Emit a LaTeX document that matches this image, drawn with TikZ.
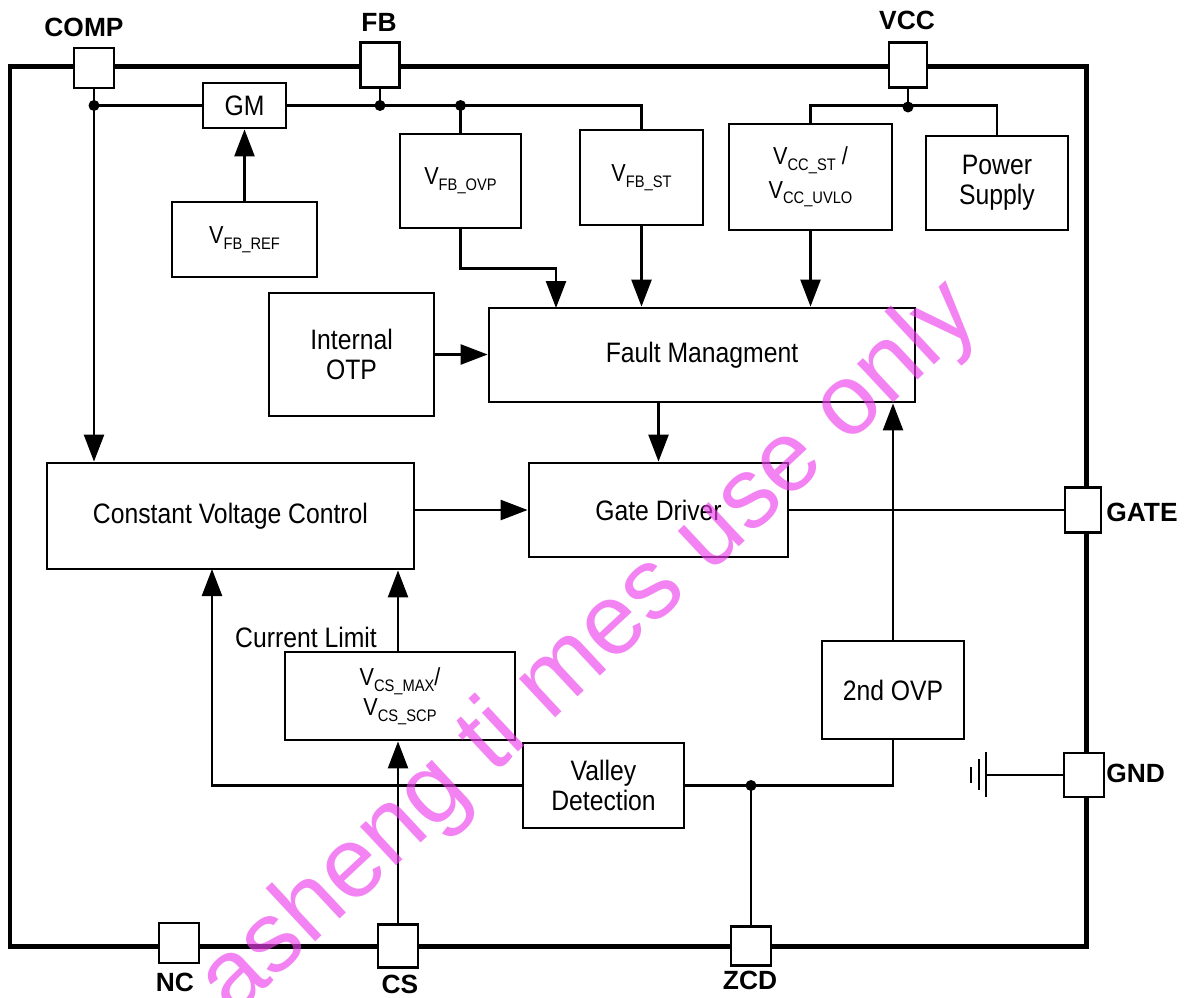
\documentclass[tikz,border=0pt]{standalone}
\usepackage{fontspec}
\setmainfont{Liberation Sans}[FakeStretch=0.88]
\newfontfamily\plainsans{Liberation Sans}
\usetikzlibrary{arrows.meta,calc}
\definecolor{wmark}{RGB}{236,64,236}
\newcommand{\pxu}{0.02cm}
\newcommand{\vsub}[2]{\fontsize{14}{17}\selectfont #1\raisebox{-0.45ex}{\fontsize{9.5}{11}\selectfont #2}}

\begin{document}
\begin{tikzpicture}[x=0.02cm, y=-0.02cm,
    blk/.style={draw, line width=1.6pt, align=center, inner sep=1pt,
                font=\fontsize{16}{17}\selectfont},
    pinbox/.style={draw, fill=white, line width=1.6pt, inner sep=0pt},
    pinlbl/.style={font=\plainsans\fontsize{15}{16}\selectfont\bfseries, inner sep=0pt},
    wire/.style={line width=1.4pt},
    arr/.style={wire, -{Triangle[length=0.54cm, width=0.4cm]}},
    jdot/.style={circle, fill, inner sep=0pt, minimum size=0.22cm}]
  \useasboundingbox (0,0) rectangle (1192,997);

  % chip outline
  \draw[line width=0.1cm] (10,67) rectangle (1086,946);

  % pins
  \node[pinbox, minimum width=40*\pxu, minimum height=40*\pxu] (comp) at (94,68) {};
  \node[pinbox, minimum width=39*\pxu, minimum height=45*\pxu] (fb) at (380,65) {};
  \node[pinbox, minimum width=38*\pxu, minimum height=45*\pxu] (vcc) at (908,65) {};
  \node[pinbox, minimum width=36*\pxu, minimum height=45*\pxu] (gate) at (1083,510) {};
  \node[pinbox, minimum width=40*\pxu, minimum height=44*\pxu] (gnd) at (1084,775) {};
  \node[pinbox, minimum width=40*\pxu, minimum height=39*\pxu] (zcd) at (751,946) {};
  \node[pinbox, minimum width=40*\pxu, minimum height=43*\pxu] (cs) at (398,946) {};
  \node[pinbox, minimum width=40*\pxu, minimum height=40*\pxu] (nc) at (179,943) {};

  \node[pinlbl] (complbl) at (84,27) {COMP};
  \node[pinlbl] (fblbl) at (379,22) {FB};
  \node[pinlbl] (vcclbl) at (907,20) {VCC};
  \node[pinlbl, anchor=west] (gatelbl) at (1106,512) {GATE};
  \node[pinlbl, anchor=west] (gndlbl) at (1106,773) {GND};
  \node[pinlbl] (zcdlbl) at (750,980) {ZCD};
  \node[pinlbl] (cslbl) at (400,984) {CS};
  \node[pinlbl] (nclbl) at (175,982) {NC};

  % blocks
  \node[blk, minimum width=83*\pxu, minimum height=45*\pxu] (gm) at (244.5,105.5) {GM};
  \node[blk, minimum width=145*\pxu, minimum height=75*\pxu] (vfbref) at (244.5,239.5) {\vsub{V}{FB\_REF}};
  \node[blk, minimum width=121*\pxu, minimum height=94*\pxu] (vfbovp) at (460.5,181) {\vsub{V}{FB\_OVP}};
  \node[blk, minimum width=123*\pxu, minimum height=95*\pxu] (vfbst) at (641.5,177.5) {\vsub{V}{FB\_ST}};
  \node[blk, minimum width=163*\pxu, minimum height=106*\pxu] (vccst) at (810.5,177)
       {\vsub{V}{CC\_ST} /\\[2pt]\vsub{V}{CC\_UVLO}};
  \node[blk, minimum width=142*\pxu, minimum height=94*\pxu] (psu) at (997,183) {Power\\Supply};
  \node[blk, minimum width=165*\pxu, minimum height=123*\pxu] (otp) at (351.5,354.5) {Internal\\OTP};
  \node[blk, minimum width=426*\pxu, minimum height=94*\pxu] (fault) at (702,355) {Fault Managment};
  \node[blk, minimum width=367*\pxu, minimum height=106*\pxu] (cvc) at (230.5,516) {Constant Voltage Control};
  \node[blk, minimum width=259*\pxu, minimum height=94*\pxu] (gd) at (658.5,510) {Gate Driver};
  \node[blk, minimum width=230*\pxu, minimum height=88*\pxu] (vcs) at (400,696)
       {\vsub{V}{CS\_MAX}/\\\vsub{V}{CS\_SCP}};
  \node[blk, minimum width=161*\pxu, minimum height=85*\pxu] (valley) at (603.5,785.5) {Valley\\Detection};
  \node[blk, minimum width=142*\pxu, minimum height=98*\pxu] (ovp2) at (893,690) {2nd OVP};
  \node[font=\fontsize{16}{17}\selectfont] (climit) at (306,637) {Current Limit};

  % top bus
  \draw[wire] (comp.south |- gm.west) -- (gm.west);
  \draw[wire] (gm.east) -- (vfbst.north |- gm.east) -- (vfbst.north);
  \draw[wire] (fb.south) -- (fb.south |- gm.east);
  \draw[wire] (vfbovp.north) -- (vfbovp.north |- gm.east);
  \node[jdot] (dcomp) at (comp.south |- gm.west) {};
  \node[jdot] (dfb) at (fb.south |- gm.east) {};
  \node[jdot] (dovp) at (vfbovp.north |- gm.east) {};
  \draw[arr] (comp.south) -- (comp.south |- cvc.north);
  \draw[arr] (vfbref.north) -- (gm.south);

  % VCC branch
  \coordinate (vccdot) at (908,107);
  \draw[wire] (vcc.south) -- (vccdot);
  \draw[wire] (vccst.north) -- ++(0,-17) -| (psu.north);
  \node[jdot] (dvcc) at (vccdot) {};

  % into fault management
  \coordinate (ovpin) at (556,308);
  \draw[arr] (vfbovp.south) -- ++(0,39) -| (ovpin);
  \draw[arr] (vfbst.south) -- (vfbst.south |- fault.north);
  \draw[arr] (vccst.south) -- (vccst.south |- fault.north);
  \draw[arr] (otp.east) -- (otp.east -| fault.west);
  \draw[arr] (ovp2.north) -- (ovp2.north |- fault.south);
  \draw[arr] (fault.south -| gd.north) -- (gd.north);

  % gate path
  \draw[arr] (cvc.east |- gd.west) -- (gd.west);
  \draw[wire] (gd.east) -- (gate.west);

  % current sense and valley
  \coordinate (cvlim) at (212,569);
  \draw[arr] (valley.west) -| (cvlim);
  \draw[arr] (cs.north) -- (cs.north |- vcs.south);
  \draw[arr] (cs.north |- vcs.north) -- (cs.north |- cvc.south);
  \draw[wire] (valley.east) -| (ovp2.south);
  \draw[wire] (zcd.north) -- (zcd.north |- valley.east);
  \node[jdot] (dzcd) at (zcd.north |- valley.east) {};

  % ground
  \coordinate (gndsym) at (986,775);
  \draw[wire] (gnd.west) -- (gndsym);
  \draw[wire] (986,752) -- (986,797);
  \draw[wire] (979,759) -- (979,790);
  \draw[wire] (971,767) -- (971,783);

  % watermark
  \node[font=\plainsans\fontsize{57}{60}\selectfont, text=wmark, opacity=0.65, rotate=43,
        inner sep=0pt] (wm) at (590,650) {asheng ti mes use only};
\end{tikzpicture}
\end{document}
